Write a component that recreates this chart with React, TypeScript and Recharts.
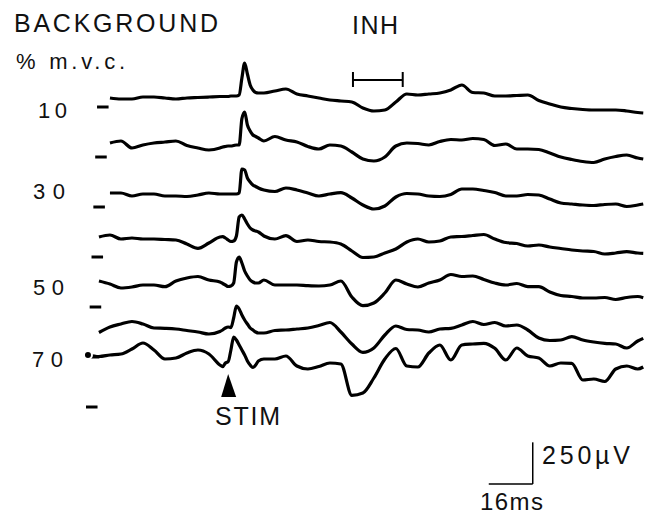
import { LineChart, Line, XAxis, YAxis, ReferenceLine, ReferenceDot } from "recharts";

// time after trace start (ms); denser around the stimulus response
const TIME_MS = [
  0, 4, 8, 12, 16, 20, 24, 28, 32, 36, 40, 44,
  48, 49, 50, 51, 52, 53, 54, 55, 56, 57, 58, 59, 60, 61, 62,
  64, 68, 72, 76, 80, 84, 88, 92, 96, 100, 104, 108, 112, 116, 120, 124, 128, 132, 136, 140,
  144, 148, 152, 156, 160, 164, 168, 172, 176, 180, 184, 188, 192, 196, 200, 202,
];

// rectified EMG (µV) at each background level, % m.v.c.
const TRACE_10 = [
  null, null, 54, 48, 48, 60, 60, 54, 48, 54, 57, 60,
  63, 63, 63, 63, 66, 66, 66, 72, 174, 264, 198, 132, 102, 87, 84,
  84, 96, 108, 78, 66, 54, 42, 36, 30, -6, -24, -18, 30, 78, 72, 78, 84, 102, 132, 87,
  84, 66, 66, 69, 72, 39, 18, 0, -9, -15, -18, -18, -18, -24, -33, -36,
];
const TRACE_20 = [
  null, null, 84, 96, 54, 72, 84, 90, 96, 69, 54, 42,
  54, 60, 63, 66, 66, 69, 72, 72, 230, 270, 192, 156, 132, 123, 114,
  96, 123, 102, 90, 63, 48, 72, 66, 30, -12, -24, 0, 66, 84, 81, 72, 93, 105, 102, 111,
  105, 69, 78, 48, 48, 45, 24, 0, -15, -27, -33, -12, 3, 12, -6, -12,
];
const TRACE_30 = [
  null, null, 84, 84, 66, 78, 78, 66, 66, 63, 72, 84,
  78, 78, 78, 78, 78, 78, 78, 84, 228, 222, 174, 150, 132, 123, 114,
  102, 93, 114, 102, 84, 66, 78, 86, 54, 12, -12, 6, 60, 81, 78, 66, 63, 75, 108, 108,
  99, 87, 66, 66, 75, 72, 48, 24, 18, 12, 9, 15, 18, 3, 12, 18,
];
const TRACE_40 = [
  null, 120, 132, 108, 114, 108, 108, 105, 102, 78, 52, 84,
  120, 122, 114, 102, 93, 96, 126, 240, 252, 228, 198, 174, 162, 156, 150,
  126, 108, 128, 93, 102, 93, 90, 78, 36, -3, 0, 24, 48, 90, 108, 90, 96, 120, 123, 129,
  135, 108, 87, 81, 66, 72, 60, 51, 42, 36, 33, 18, 24, 32, 24, 22,
];
const TRACE_50 = [
  null, 156, 138, 114, 120, 132, 132, 122, 156, 174, 183, 162,
  150, 141, 132, 123, 126, 144, 270, 300, 264, 216, 186, 162, 150, 144, 144,
  162, 132, 132, 132, 128, 126, 132, 156, 60, 8, 24, 84, 162, 138, 120, 144, 162, 195, 183, 186,
  165, 144, 132, 141, 122, 122, 90, 69, 63, 54, 54, 57, 45, 57, 63, 56,
];
const TRACE_60 = [
  null, 147, 180, 198, 213, 198, 174, 172, 168, 159, 150, 138,
  153, 162, 174, 180, 176, 234, 306, 288, 252, 222, 198, 174, 162, 150, 144,
  144, 159, 162, 168, 174, 189, 207, 150, 78, 28, 54, 132, 186, 165, 162, 150, 168, 172, 192, 213,
  195, 207, 186, 192, 162, 114, 99, 102, 122, 102, 90, 82, 78, 54, 96, 112,
];
const TRACE_70 = [
  312, 303, 312, 318, 348, 384, 342, 288, 294, 324, 342, 318,
  252, 242, 264, 272, 342, 420, 402, 372, 342, 312, 276, 252, 237, 252, 276,
  288, 288, 306, 246, 228, 243, 264, 258, 70, 84, 174, 288, 351, 246, 240, 324, 372, 282, 372, 378,
  382, 352, 282, 354, 306, 294, 246, 264, 262, 162, 168, 153, 228, 246, 228, 240,
];

const TRACES = [TRACE_10, TRACE_20, TRACE_30, TRACE_40, TRACE_50, TRACE_60, TRACE_70];
const LEVEL_LABELS = ["10", "30", "50", "70"];
const TRACE_STEP_UV = 300;

const STIM_MS = 51;
const INH_MS = [96.4, 114.5];
const SCALE_MS = 16;
const SCALE_UV = 250;

const chartData = TIME_MS.map((t, i) => {
  const row: Record<string, number | null> = { t };
  TRACES.forEach((trace, k) => {
    const v = trace[i];
    row[`s${k}`] = v === null ? null : v - k * TRACE_STEP_UV;
  });
  return row;
});

const FONT = "'Liberation Sans', Arial, Helvetica, sans-serif";
const textStyle = { fontFamily: FONT, fontSize: 25, fill: "#111" };

const Arrow = (props: any) => {
  const { cx, cy } = props;
  return (
    <polygon
      points={`${cx},${cy} ${cx - 7},${cy + 23} ${cx + 8},${cy + 23}`}
      fill="#000"
    />
  );
};

const App = () => {
  const scaleX = 161.8;
  const scaleY = -2262;
  const inhY = 162;
  return (
    <div style={{ position: "absolute", left: 0, top: 0, background: "#fff" }}>
      <LineChart
        width={646}
        height={516}
        data={chartData}
        margin={{ top: 0, right: 0, bottom: 0, left: 0 }}
      >
        <XAxis dataKey="t" type="number" domain={[-32, 203]} hide />
        <YAxis type="number" domain={[-2454, 642]} hide />

        {TRACES.map((_, k) => (
          <ReferenceLine
            key={`dash${k}`}
            segment={[
              { x: 3.3 - 0.67 * k, y: -k * TRACE_STEP_UV },
              { x: 7.5 - 0.67 * k, y: -k * TRACE_STEP_UV },
            ]}
            stroke="#000"
            strokeWidth={3}
          />
        ))}

        {TRACES.map((_, k) => (
          <Line
            key={k}
            dataKey={`s${k}`}
            type="monotone"
            stroke="#000"
            strokeWidth={3.2}
            strokeLinejoin="round"
            dot={false}
            isAnimationActive={false}
          />
        ))}

        {/* INH bar */}
        <ReferenceLine
          segment={[{ x: INH_MS[0], y: inhY }, { x: INH_MS[1], y: inhY }]}
          stroke="#000"
          strokeWidth={2}
        />
        <ReferenceLine
          segment={[{ x: INH_MS[0], y: inhY - 42 }, { x: INH_MS[0], y: inhY + 48 }]}
          stroke="#000"
          strokeWidth={2}
        />
        <ReferenceLine
          segment={[{ x: INH_MS[1], y: inhY - 42 }, { x: INH_MS[1], y: inhY + 48 }]}
          stroke="#000"
          strokeWidth={2}
        />

        {/* calibration */}
        <ReferenceLine
          segment={[{ x: scaleX - SCALE_MS, y: scaleY }, { x: scaleX, y: scaleY }]}
          stroke="#000"
          strokeWidth={1.5}
        />
        <ReferenceLine
          segment={[{ x: scaleX, y: scaleY }, { x: scaleX, y: scaleY + SCALE_UV }]}
          stroke="#000"
          strokeWidth={1.5}
        />

        <ReferenceDot x={STIM_MS} y={-1602} r={0} shape={Arrow} />

        <text x={14} y={32} {...textStyle} textLength={204} lengthAdjust="spacing">
          BACKGROUND
        </text>
        <text x={16} y={69} {...textStyle} fontSize={22} textLength={109} lengthAdjust="spacing">
          % m.v.c.
        </text>
        <text x={38} y={118} {...textStyle} fontSize={22} textLength={29} lengthAdjust="spacing">
          {LEVEL_LABELS[0]}
        </text>
        <text x={33} y={199} {...textStyle} fontSize={22} textLength={32} lengthAdjust="spacing">
          {LEVEL_LABELS[1]}
        </text>
        <text x={33} y={295} {...textStyle} fontSize={22} textLength={31} lengthAdjust="spacing">
          {LEVEL_LABELS[2]}
        </text>
        <text x={32} y={367} {...textStyle} fontSize={22} textLength={31} lengthAdjust="spacing">
          {LEVEL_LABELS[3]}
        </text>
        <text x={352} y={34} {...textStyle} textLength={46} lengthAdjust="spacing">
          INH
        </text>
        <text x={215} y={425} {...textStyle} textLength={65} lengthAdjust="spacing">
          STIM
        </text>
        <text x={542} y={464} {...textStyle} textLength={88} lengthAdjust="spacing">
          250µV
        </text>
        <text x={480} y={510} {...textStyle} fontSize={24} textLength={63} lengthAdjust="spacing">
          16ms
        </text>
      </LineChart>
    </div>
  );
};

export default App;
